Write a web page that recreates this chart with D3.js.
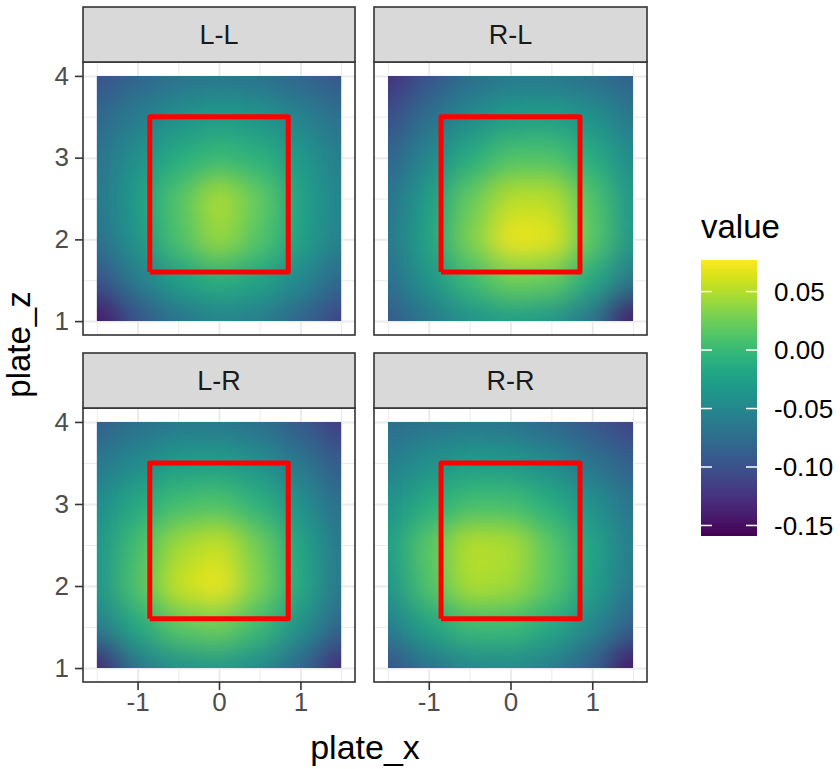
<!DOCTYPE html>
<html>
<head>
<meta charset="utf-8">
<script src="https://d3js.org/d3.v7.min.js"></script>
<style>
  body { margin: 0; background: #fff; }
  text { font-family: "Liberation Sans", Arial, sans-serif; }
</style>
</head>
<body>
<svg id="chart" width="840" height="769"></svg>
<script>
// facet names, grid positions (cell centres) and values
const panels = ["L-L", "R-L", "L-R", "R-R"];
const plateX = [-1.5, -1, -0.5, 0, 0.5, 1, 1.5];
const plateZ = [4, 3.5, 3, 2.5, 2, 1.5, 1];

const valuesLL = [
  [-0.100, -0.083, -0.072, -0.067, -0.072, -0.083, -0.095],
  [-0.081, -0.060, -0.041, -0.029, -0.036, -0.053, -0.074],
  [-0.069, -0.041, -0.013,  0.001, -0.008, -0.032, -0.060],
  [-0.065, -0.029,  0.013,  0.049,  0.020, -0.022, -0.053],
  [-0.072, -0.036,  0.009,  0.042,  0.013, -0.024, -0.058],
  [-0.100, -0.060, -0.027, -0.010, -0.022, -0.048, -0.081],
  [-0.147, -0.098, -0.069, -0.053, -0.060, -0.083, -0.112]
];
const valuesRL = [
  [-0.126, -0.098, -0.076, -0.065, -0.065, -0.074, -0.088],
  [-0.102, -0.074, -0.046, -0.029, -0.027, -0.041, -0.065],
  [-0.083, -0.050, -0.013,  0.011,  0.011, -0.013, -0.046],
  [-0.069, -0.029,  0.020,  0.053,  0.053,  0.011, -0.036],
  [-0.065, -0.022,  0.030,  0.072,  0.068,  0.016, -0.036],
  [-0.074, -0.036,  0.001,  0.025,  0.020, -0.017, -0.065],
  [-0.093, -0.065, -0.041, -0.029, -0.036, -0.069, -0.145]
];
const valuesLR = [
  [-0.088, -0.074, -0.065, -0.065, -0.074, -0.093, -0.117],
  [-0.065, -0.046, -0.029, -0.027, -0.041, -0.065, -0.093],
  [-0.046, -0.017,  0.006,  0.011, -0.008, -0.041, -0.076],
  [-0.036,  0.006,  0.044,  0.058,  0.025, -0.022, -0.065],
  [-0.036,  0.011,  0.058,  0.072,  0.030, -0.017, -0.065],
  [-0.060, -0.017,  0.016,  0.025,  0.001, -0.041, -0.083],
  [-0.135, -0.065, -0.041, -0.032, -0.046, -0.079, -0.131]
];
const valuesRR = [
  [-0.076, -0.069, -0.065, -0.069, -0.081, -0.095, -0.112],
  [-0.060, -0.041, -0.029, -0.032, -0.046, -0.069, -0.088],
  [-0.041, -0.013,  0.006,  0.006, -0.013, -0.041, -0.069],
  [-0.029,  0.016,  0.053,  0.049,  0.016, -0.022, -0.060],
  [-0.036,  0.011,  0.049,  0.044,  0.016, -0.027, -0.065],
  [-0.060, -0.022,  0.001,  0.001, -0.017, -0.050, -0.088],
  [-0.100, -0.069, -0.050, -0.046, -0.060, -0.088, -0.147]
];
const panelValues = [valuesLL, valuesRL, valuesLR, valuesRR];

// strike zone outline
const zoneX = [-0.85, -0.85, 0.85, 0.85, -0.85];
const zoneZ = [1.6, 3.5, 3.5, 1.6, 1.6];

const xTicks = [-1, 0, 1];
const zTicks = [1, 2, 3, 4];
const legendTicks = [0.05, 0, -0.05, -0.10, -0.15];
const legendLabels = ["0.05", "0.00", "-0.05", "-0.10", "-0.15"];
const valueRange = [-0.159, 0.077];

const svg = d3.select("#chart");
const cols = [[83, 355], [374, 647]];
const rows = [[62, 335], [408, 682]];
const stripH = 55;
const cellHalf = 0.25;

const color = d3.scaleSequential(d3.interpolateViridis).domain(valueRange);

const defs = svg.append("defs");
const filt = defs.append("filter").attr("id", "smooth")
  .attr("color-interpolation-filters", "sRGB");
filt.append("feGaussianBlur").attr("stdDeviation", 15);
filt.append("feComponentTransfer").append("feFuncA")
  .attr("type", "table").attr("tableValues", "1 1");

// plain hyphen for negative tick labels, like the original
const tickFmt = d => String(d);

panels.forEach((name, i) => {
  const c = cols[i % 2], r = rows[Math.floor(i / 2)];
  const x = d3.scaleLinear().domain([-1.67, 1.67]).range(c);
  const y = d3.scaleLinear().domain([0.83, 4.17]).range([r[1], r[0]]);
  const w = c[1] - c[0], h = r[1] - r[0];

  const g = svg.append("g");

  // grid lines (minor then major)
  g.append("g").attr("class", "grid")
    .attr("transform", "translate(0," + r[1] + ")")
    .call(d3.axisBottom(x).tickValues([-1.5, -0.5, 0.5, 1.5]).tickSize(-h).tickFormat(""))
    .call(a => a.selectAll("line").attr("stroke", "#ebebeb").attr("stroke-width", 1))
    .call(a => a.select(".domain").remove());
  g.append("g").attr("class", "grid")
    .attr("transform", "translate(" + c[0] + ",0)")
    .call(d3.axisLeft(y).tickValues([1.5, 2.5, 3.5]).tickSize(-w).tickFormat(""))
    .call(a => a.selectAll("line").attr("stroke", "#ebebeb").attr("stroke-width", 1))
    .call(a => a.select(".domain").remove());
  g.append("g").attr("class", "grid")
    .attr("transform", "translate(0," + r[1] + ")")
    .call(d3.axisBottom(x).tickValues(xTicks).tickSize(-h).tickFormat(""))
    .call(a => a.selectAll("line").attr("stroke", "#ebebeb").attr("stroke-width", 2))
    .call(a => a.select(".domain").remove());
  g.append("g").attr("class", "grid")
    .attr("transform", "translate(" + c[0] + ",0)")
    .call(d3.axisLeft(y).tickValues(zTicks).tickSize(-w).tickFormat(""))
    .call(a => a.selectAll("line").attr("stroke", "#ebebeb").attr("stroke-width", 2))
    .call(a => a.select(".domain").remove());

  // raster
  const clipId = "clip" + i;
  defs.append("clipPath").attr("id", clipId)
    .append("rect")
    .attr("x", x(-1.5)).attr("y", y(4))
    .attr("width", x(1.5) - x(-1.5)).attr("height", y(1) - y(4));

  const cells = [];
  panelValues[i].forEach((row, ri) => row.forEach((v, ci) => {
    cells.push({ px: plateX[ci], pz: plateZ[ri], v: v });
  }));

  g.append("g").attr("clip-path", "url(#" + clipId + ")")
    .append("g").attr("filter", "url(#smooth)")
    .selectAll("rect").data(cells).join("rect")
    .attr("x", d => x(d.px - cellHalf))
    .attr("y", d => y(d.pz + cellHalf))
    .attr("width", d => x(d.px + cellHalf) - x(d.px - cellHalf) + 0.5)
    .attr("height", d => y(d.pz - cellHalf) - y(d.pz + cellHalf) + 0.5)
    .attr("fill", d => color(d.v));

  // strike zone
  const line = d3.line().x(d => x(d[0])).y(d => y(d[1]));
  g.append("path")
    .attr("d", line(zoneX.map((v, k) => [v, zoneZ[k]])))
    .attr("fill", "none").attr("stroke", "#ff0000")
    .attr("stroke-width", 5).attr("stroke-linejoin", "round");

  // panel border
  g.append("rect").attr("x", c[0]).attr("y", r[0]).attr("width", w).attr("height", h)
    .attr("fill", "none").attr("stroke", "#333333").attr("stroke-width", 1.6);

  // strip
  g.append("rect").attr("x", c[0]).attr("y", r[0] - stripH).attr("width", w).attr("height", stripH)
    .attr("fill", "#d9d9d9").attr("stroke", "#333333").attr("stroke-width", 1.6);
  g.append("text").attr("x", (c[0] + c[1]) / 2).attr("y", r[0] - stripH / 2)
    .attr("dy", "0.36em").attr("text-anchor", "middle")
    .attr("font-size", 27).attr("fill", "#1a1a1a").text(name);

  // axes
  if (i % 2 === 0) {
    g.append("g").attr("transform", "translate(" + c[0] + ",0)")
      .call(d3.axisLeft(y).tickValues(zTicks).tickSize(8).tickPadding(6).tickFormat(tickFmt))
      .call(a => a.select(".domain").remove())
      .call(a => a.selectAll("line").attr("stroke", "#333333").attr("stroke-width", 1.6))
      .call(a => a.selectAll("text").attr("font-size", 26).attr("fill", "#4d4d4d")
        .attr("font-family", "Liberation Sans, Arial, sans-serif"));
  }
  if (i >= 2) {
    g.append("g").attr("transform", "translate(0," + r[1] + ")")
      .call(d3.axisBottom(x).tickValues(xTicks).tickSize(8).tickPadding(3).tickFormat(tickFmt))
      .call(a => a.select(".domain").remove())
      .call(a => a.selectAll("line").attr("stroke", "#333333").attr("stroke-width", 1.6))
      .call(a => a.selectAll("text").attr("font-size", 26).attr("fill", "#4d4d4d")
        .attr("font-family", "Liberation Sans, Arial, sans-serif"));
  }
});

// axis titles
svg.append("text").attr("x", (cols[0][0] + cols[1][1]) / 2).attr("y", 759)
  .attr("text-anchor", "middle").attr("font-size", 34).text("plate_x");
svg.append("text").attr("transform", "translate(30," + ((rows[0][0] - stripH + rows[1][1]) / 2) + ") rotate(-90)")
  .attr("text-anchor", "middle").attr("font-size", 33).text("plate_z");

// colour bar legend
const barX = 701, barW = 56, barTop = 260, barBottom = 536;
const ly = d3.scaleLinear().domain(valueRange).range([barBottom, barTop]);
const grad = defs.append("linearGradient").attr("id", "bar")
  .attr("x1", 0).attr("y1", 1).attr("x2", 0).attr("y2", 0);
d3.range(0, 1.0001, 0.05).forEach(t => {
  grad.append("stop").attr("offset", t).attr("stop-color", d3.interpolateViridis(t));
});
const legend = svg.append("g");
legend.append("text").attr("x", barX).attr("y", 238).attr("font-size", 33).text("value");
legend.append("rect").attr("x", barX).attr("y", barTop).attr("width", barW)
  .attr("height", barBottom - barTop).attr("fill", "url(#bar)");
legendTicks.forEach((v, k) => {
  legend.append("line").attr("x1", barX).attr("x2", barX + 11)
    .attr("y1", ly(v)).attr("y2", ly(v)).attr("stroke", "#ffffff").attr("stroke-width", 1.5);
  legend.append("line").attr("x1", barX + barW - 11).attr("x2", barX + barW)
    .attr("y1", ly(v)).attr("y2", ly(v)).attr("stroke", "#ffffff").attr("stroke-width", 1.5);
  legend.append("text").attr("x", 774).attr("y", ly(v)).attr("dy", "0.36em")
    .attr("font-size", 26).text(legendLabels[k]);
});
</script>
</body>
</html>
